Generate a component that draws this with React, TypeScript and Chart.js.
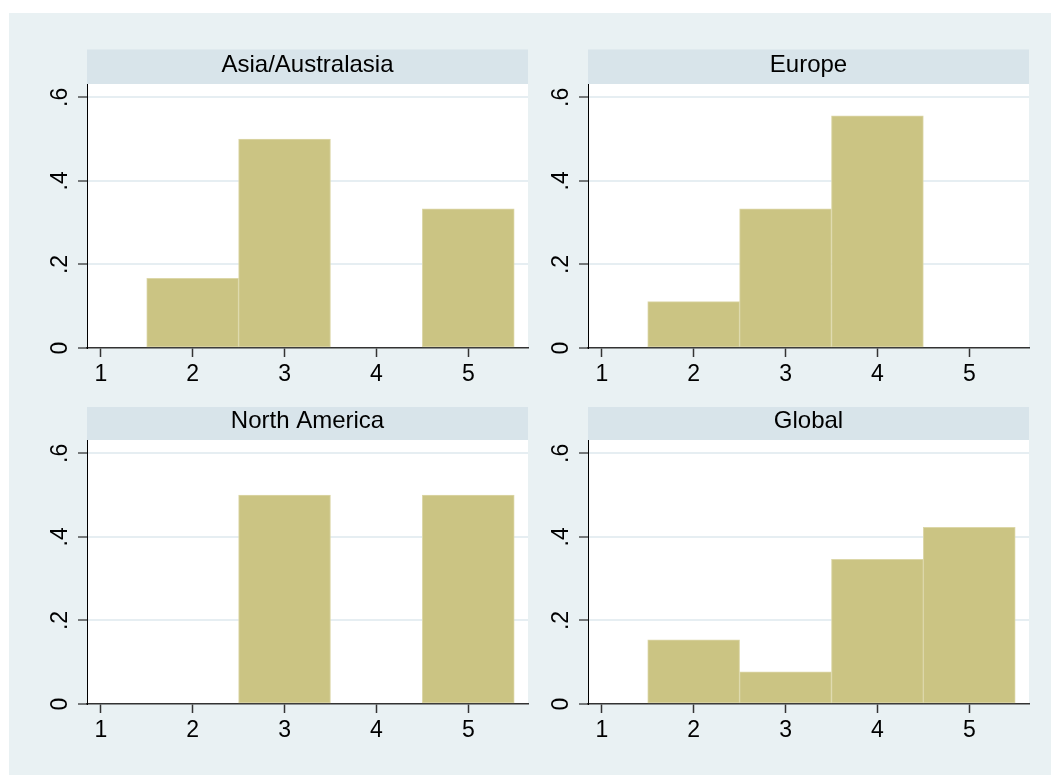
import React, { useEffect, useRef } from "react";
import { Chart, registerables } from "chart.js";

Chart.register(...registerables);

// ---- data ----
const categories = [2, 3, 4, 5];
const asiaValues = [0.1667, 0.5, 0, 0.3333];
const europeValues = [0.1111, 0.3333, 0.5556, 0];
const northAmericaValues = [0, 0.5, 0, 0.5];
const globalValues = [0.1538, 0.0769, 0.3462, 0.4231];
const panelTitles = ["Asia/Australasia", "Europe", "North America", "Global"];
const xTicks = [1, 2, 3, 4, 5];
const xTickLabels = ["1", "2", "3", "4", "5"];
const yTicks = [0, 0.2, 0.4, 0.6];
const yTickLabels = ["0", ".2", ".4", ".6"];

// ---- styles ----
const FONT = "'Liberation Sans', Arial, Helvetica, sans-serif";
const OUTER_BG = "#E9F1F3";
const STRIP_BG = "#D8E4EA";
const GRID = "#E6EEF2";
const BAR_FILL = "#CBC483";
const BAR_EDGE = "#DCD7A8";
const X_MIN = 0.85;
const X_MAX = 5.65;
const Y_MIN = 0;
const Y_MAX = 0.632;

const CANVAS_W = 496;
const CANVAS_H = 354;

const stripPlugin = {
  id: "strip",
  beforeDraw(chart: any, _args: any, opts: any) {
    const { ctx, chartArea: a } = chart;
    ctx.save();
    ctx.fillStyle = "#ffffff";
    ctx.fillRect(a.left, a.top, a.right - a.left, a.bottom - a.top);
    ctx.fillStyle = STRIP_BG;
    ctx.fillRect(a.left, a.top - opts.height, a.right - a.left, opts.height);
    ctx.fillStyle = "#000000";
    ctx.font = `24px ${FONT}`;
    ctx.textAlign = "center";
    ctx.textBaseline = "alphabetic";
    ctx.fillText(opts.text, (a.left + a.right) / 2, a.top - opts.height + opts.height * 0.65);
    ctx.restore();
  },
};

type PanelProps = {
  title: string;
  values: number[];
  left: number;
  top: number;
  stripHeight: number;
};

function Panel({ title, values, left, top, stripHeight }: PanelProps) {
  const ref = useRef<HTMLCanvasElement | null>(null);

  useEffect(() => {
    if (!ref.current) return;
    const chart = new Chart(ref.current, {
      type: "bar",
      data: {
        datasets: [
          {
            data: categories.map((c, i) => ({ x: c, y: values[i] })),
            backgroundColor: BAR_FILL,
            borderColor: BAR_EDGE,
            borderWidth: 1,
            borderSkipped: false,
            barPercentage: 1,
            categoryPercentage: 1,
          } as any,
        ],
      },
      options: {
        animation: false,
        responsive: false,
        devicePixelRatio: 1,
        layout: { padding: { top: 40, right: 10, left: 0, bottom: 0 } },
        plugins: {
          legend: { display: false },
          tooltip: { enabled: false },
          strip: { text: title, height: stripHeight },
        } as any,
        scales: {
          x: {
            type: "linear",
            min: X_MIN,
            max: X_MAX,
            offset: false,
            bounds: "data",
            afterBuildTicks: (s: any) => {
              s.ticks = xTicks.map((v) => ({ value: v }));
            },
            afterFit: (s: any) => {
              s.height = 50;
            },
            ticks: {
              padding: 4,
              color: "#000000",
              font: { size: 23, family: FONT },
              maxRotation: 0,
              minRotation: 0,
              autoSkip: false,
              callback: (_v: any, i: number) => xTickLabels[i],
            },
            grid: {
              display: true,
              drawOnChartArea: false,
              drawTicks: true,
              tickLength: 9,
              tickColor: "#333333",
              tickWidth: 1.5,
              offset: false,
            },
            border: { display: true, color: "#333333", width: 1.5 },
          } as any,
          y: {
            type: "linear",
            min: Y_MIN,
            max: Y_MAX,
            bounds: "data",
            position: "left",
            afterBuildTicks: (s: any) => {
              s.ticks = yTicks.map((v) => ({ value: v }));
            },
            afterFit: (s: any) => {
              s.width = 45;
            },
            ticks: {
              minRotation: 90,
              maxRotation: 90,
              crossAlign: "center",
              padding: 8,
              color: "#000000",
              font: { size: 23, family: FONT },
              autoSkip: false,
              callback: (_v: any, i: number) => yTickLabels[i],
            },
            grid: {
              display: true,
              drawOnChartArea: true,
              drawTicks: true,
              color: (c: any) => (c.tick && c.tick.value === 0 ? "rgba(0,0,0,0)" : GRID),
              lineWidth: 2,
              tickLength: 9,
              tickColor: "#000000",
              tickWidth: 1,
            },
            border: { display: true, color: "#000000", width: 1 },
          } as any,
        },
      },
      plugins: [stripPlugin as any],
    });
    return () => chart.destroy();
  }, [title, values, stripHeight]);

  return (
    <canvas
      ref={ref}
      width={CANVAS_W}
      height={CANVAS_H}
      style={{ position: "absolute", left, top, width: CANVAS_W, height: CANVAS_H }}
    />
  );
}

export default function App() {
  return (
    <div
      style={{
        position: "absolute",
        left: 0,
        top: 0,
        width: 1051,
        height: 775,
        background: "#ffffff",
        overflow: "hidden",
      }}
    >
      <div
        style={{
          position: "absolute",
          left: 9,
          top: 13,
          width: 1042,
          height: 762,
          background: OUTER_BG,
        }}
      />
      <Panel title={panelTitles[0]} values={asiaValues} left={42} top={44} stripHeight={34.5} />
      <Panel title={panelTitles[1]} values={europeValues} left={543} top={44} stripHeight={34.5} />
      <Panel title={panelTitles[2]} values={northAmericaValues} left={42} top={400} stripHeight={33} />
      <Panel title={panelTitles[3]} values={globalValues} left={543} top={400} stripHeight={33} />
    </div>
  );
}
